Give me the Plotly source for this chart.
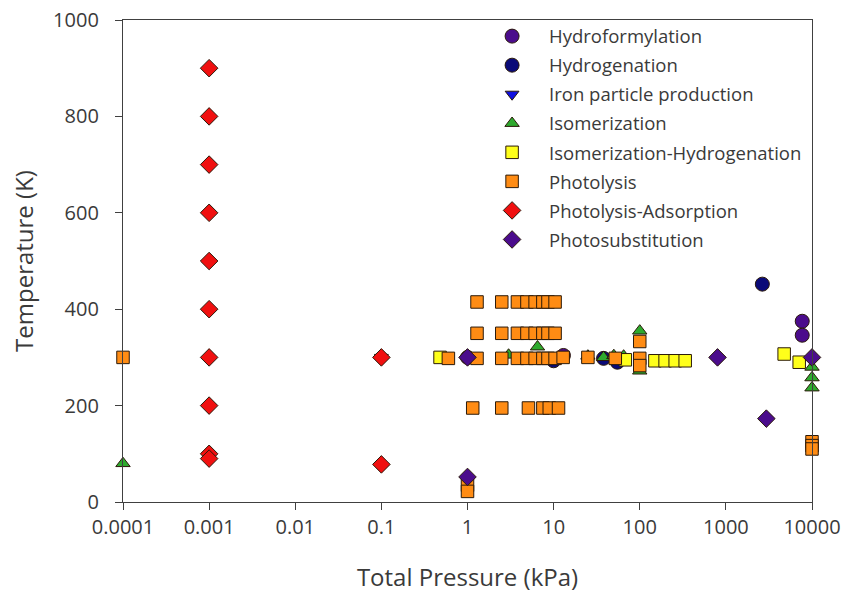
import plotly.graph_objects as go

# Reaction data: total pressure (kPa) and temperature (K)
hydroformylation_p = [7700, 7700, 1, 13]
hydroformylation_t = [375, 346, 300, 304]

hydrogenation_p = [2650, 10, 38, 55]
hydrogenation_t = [452, 293, 298, 290]

iron_p = [0.1]
iron_t = [300]

isomerization_p = [0.0001, 3.0, 6.5, 25, 38, 50, 65, 100, 100, 10000, 10000, 10000]
isomerization_t = [80, 305, 322, 303, 300, 304, 303, 355, 272, 280, 258, 237]

iso_hydro_p = [0.48, 68, 150, 197, 258, 337, 4750, 7100]
iso_hydro_t = [300, 295, 293, 293, 293, 293, 307, 290]

photolysis_p = [0.0001,
                0.6, 1.29, 2.5, 3.8, 4.9, 6.1, 7.5, 8.6, 10.4, 12.9, 25, 52,
                1.29, 2.5, 3.8, 4.9, 6.1, 7.5, 8.6, 10.4,
                1.29, 2.5, 3.8, 4.9, 6.1, 7.5, 8.6, 10.4,
                1.15, 2.5, 5.1, 7.5, 8.9, 11.4,
                1, 1,
                100, 100, 100,
                10000, 10000, 10000]
photolysis_t = [300,
                298, 298, 298, 298, 298, 298, 298, 298, 298, 300, 300, 298,
                415, 415, 415, 415, 415, 415, 415, 415,
                350, 350, 350, 350, 350, 350, 350, 350,
                195, 195, 195, 195, 195, 195,
                35, 22,
                333, 298, 283,
                125, 117, 110]

photo_ads_p = [0.001] * 10 + [0.1, 0.1]
photo_ads_t = [900, 800, 700, 600, 500, 400, 300, 200, 100, 90, 300, 78]

photosub_p = [1, 1, 800, 2950, 10000]
photosub_t = [300, 52, 300, 173, 300]

x_tick_vals = [0.0001, 0.001, 0.01, 0.1, 1, 10, 100, 1000, 10000]
x_tick_text = ["0.0001", "0.001", "0.01", "0.1", "1", "10", "100", "1000", "10000"]

series = [
    ("Hydroformylation", hydroformylation_p, hydroformylation_t, "circle", "#4B0C8C", 14),
    ("Hydrogenation", hydrogenation_p, hydrogenation_t, "circle", "#0A0A78", 14),
    ("Iron particle production", iron_p, iron_t, "triangle-down", "#1010E0", 12),
    ("Isomerization", isomerization_p, isomerization_t, "triangle-up", "#2EAA2E", 12.5),
    ("Isomerization-Hydrogenation", iso_hydro_p, iso_hydro_t, "square", "#FFFF1A", 12.5),
    ("Photolysis", photolysis_p, photolysis_t, "square", "#FF8C14", 12.5),
    ("Photolysis-Adsorption", photo_ads_p, photo_ads_t, "diamond", "#F01010", 13.5),
    ("Photosubstitution", photosub_p, photosub_t, "diamond", "#4B0C8C", 13.5),
]

fig = go.Figure()
for name, px_, ty, sym, col, size in series:
    fig.add_trace(go.Scatter(
        x=px_, y=ty, mode="markers", name=name, legendgroup=name,
        cliponaxis=False,
        marker=dict(symbol=sym, color=col, size=size,
                    line=dict(color="#2B1A0A", width=1)),
    ))

font_family = "Open Sans, Lato, sans-serif"

fig.update_layout(
    width=847, height=600,
    margin=dict(l=123, r=35, t=20, b=98, autoexpand=False),
    paper_bgcolor="white", plot_bgcolor="white",
    font=dict(family=font_family, color="#3A3A3A", size=18),
    legend=dict(
        x=0.511, y=1.005, xanchor="left", yanchor="top",
        font=dict(size=18.5, color="#3A3A3A"),
        itemwidth=64, tracegroupgap=2,
        bgcolor="rgba(0,0,0,0)",
    ),
    xaxis=dict(
        type="log", range=[-4, 4], automargin=False,
        tickvals=x_tick_vals, ticktext=x_tick_text,
        ticks="outside", ticklen=7, tickcolor="#404040",
        showline=True, mirror=True, linecolor="#404040", linewidth=1.3,
        showgrid=False, zeroline=False,
        tickfont=dict(size=20),
        title=dict(text="Total Pressure (kPa)", font=dict(size=24), standoff=30),
    ),
    yaxis=dict(
        range=[0, 1000], dtick=200, automargin=False,
        ticks="outside", ticklen=7, tickcolor="#404040",
        ticklabelstandoff=12,
        showline=True, mirror=True, linecolor="#404040", linewidth=1.3,
        showgrid=False, zeroline=False,
        tickfont=dict(size=20),
        title=dict(text="Temperature (K)", font=dict(size=24), standoff=12),
    ),
)

fig.write_html("out.html")
